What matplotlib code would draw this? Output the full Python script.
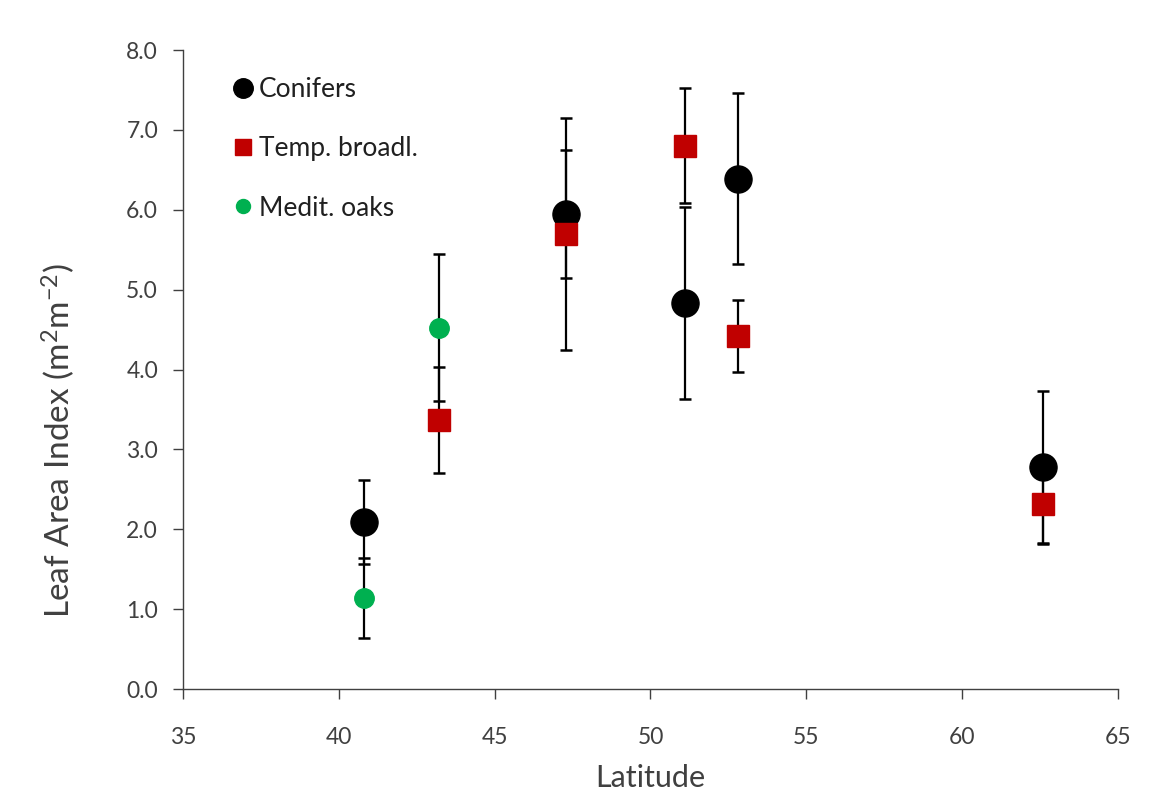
import matplotlib.pyplot as plt

# values
con_lat = [40.8, 47.3, 51.1, 52.8, 62.6]
con_lai = [2.09, 5.95, 4.83, 6.39, 2.78]
con_err = [0.53, 0.80, 1.20, 1.07, 0.95]

brd_lat = [43.2, 47.3, 51.1, 52.8, 62.6]
brd_lai = [3.37, 5.70, 6.80, 4.42, 2.32]
brd_err = [0.66, 1.45, 0.72, 0.45, 0.50]

oak_lat = [40.8, 43.2]
oak_lai = [1.14, 4.52]
oak_err = [0.50, 0.92]

plt.rcParams['font.family'] = ['Lato', 'DejaVu Sans']
plt.rcParams['mathtext.fontset'] = 'custom'
plt.rcParams['mathtext.rm'] = 'Lato'
txt = '#404040'

fig = plt.figure(figsize=(11.71, 7.95), dpi=100)
ax = fig.add_axes([0.1563, 0.1333, 0.7984, 0.8038])

eb = dict(fmt='none', ecolor='black', elinewidth=1.6, capsize=4.5, capthick=1.8, zorder=2)
ax.errorbar(con_lat, con_lai, yerr=con_err, **eb)
ax.errorbar(brd_lat, brd_lai, yerr=brd_err, **eb)
ax.errorbar(oak_lat, oak_lai, yerr=oak_err, **eb)

ax.plot(con_lat, con_lai, 'o', color='black', ms=19.5, ls='none', label='Conifers', zorder=3)
ax.plot(brd_lat, brd_lai, 's', color='#C00000', ms=16, ls='none', label='Temp. broadl.', zorder=4)
ax.plot(oak_lat, oak_lai, 'o', color='#00B050', ms=14, ls='none', label='Medit. oaks', zorder=5)

ax.set_xlim(35, 65)
ax.set_ylim(0, 8)
ax.set_xticks(range(35, 66, 5))
ax.set_yticks([i * 1.0 for i in range(9)])
ax.set_yticklabels([f'{v:.1f}' for v in ax.get_yticks()])

for s in ['top', 'right']:
    ax.spines[s].set_visible(False)
for s in ['left', 'bottom']:
    ax.spines[s].set_color('#404040')
    ax.spines[s].set_linewidth(1.0)
ax.tick_params(direction='out', length=7, width=1.0, color='#404040',
               labelsize=16.5, labelcolor=txt)
ax.tick_params(axis='x', pad=20)
ax.tick_params(axis='y', pad=11)

ax.set_xlabel('Latitude', fontsize=22, color=txt)
ax.set_ylabel('Leaf Area Index (m$\\mathregular{^2}$m$\\mathregular{^{-2}}$)',
              fontsize=24, color=txt)
ax.xaxis.set_label_coords(0.5, -0.118)
ax.yaxis.set_label_coords(-0.113, 0.388)

leg = ax.legend(loc='upper left', bbox_to_anchor=(0.022, 0.995), frameon=False,
                fontsize=19, labelspacing=1.3, handletextpad=0.0,
                markerscale=0.72, handlelength=1.2)
for t in leg.get_texts():
    t.set_color('#202020')

fig.savefig('out.png', dpi=100)
